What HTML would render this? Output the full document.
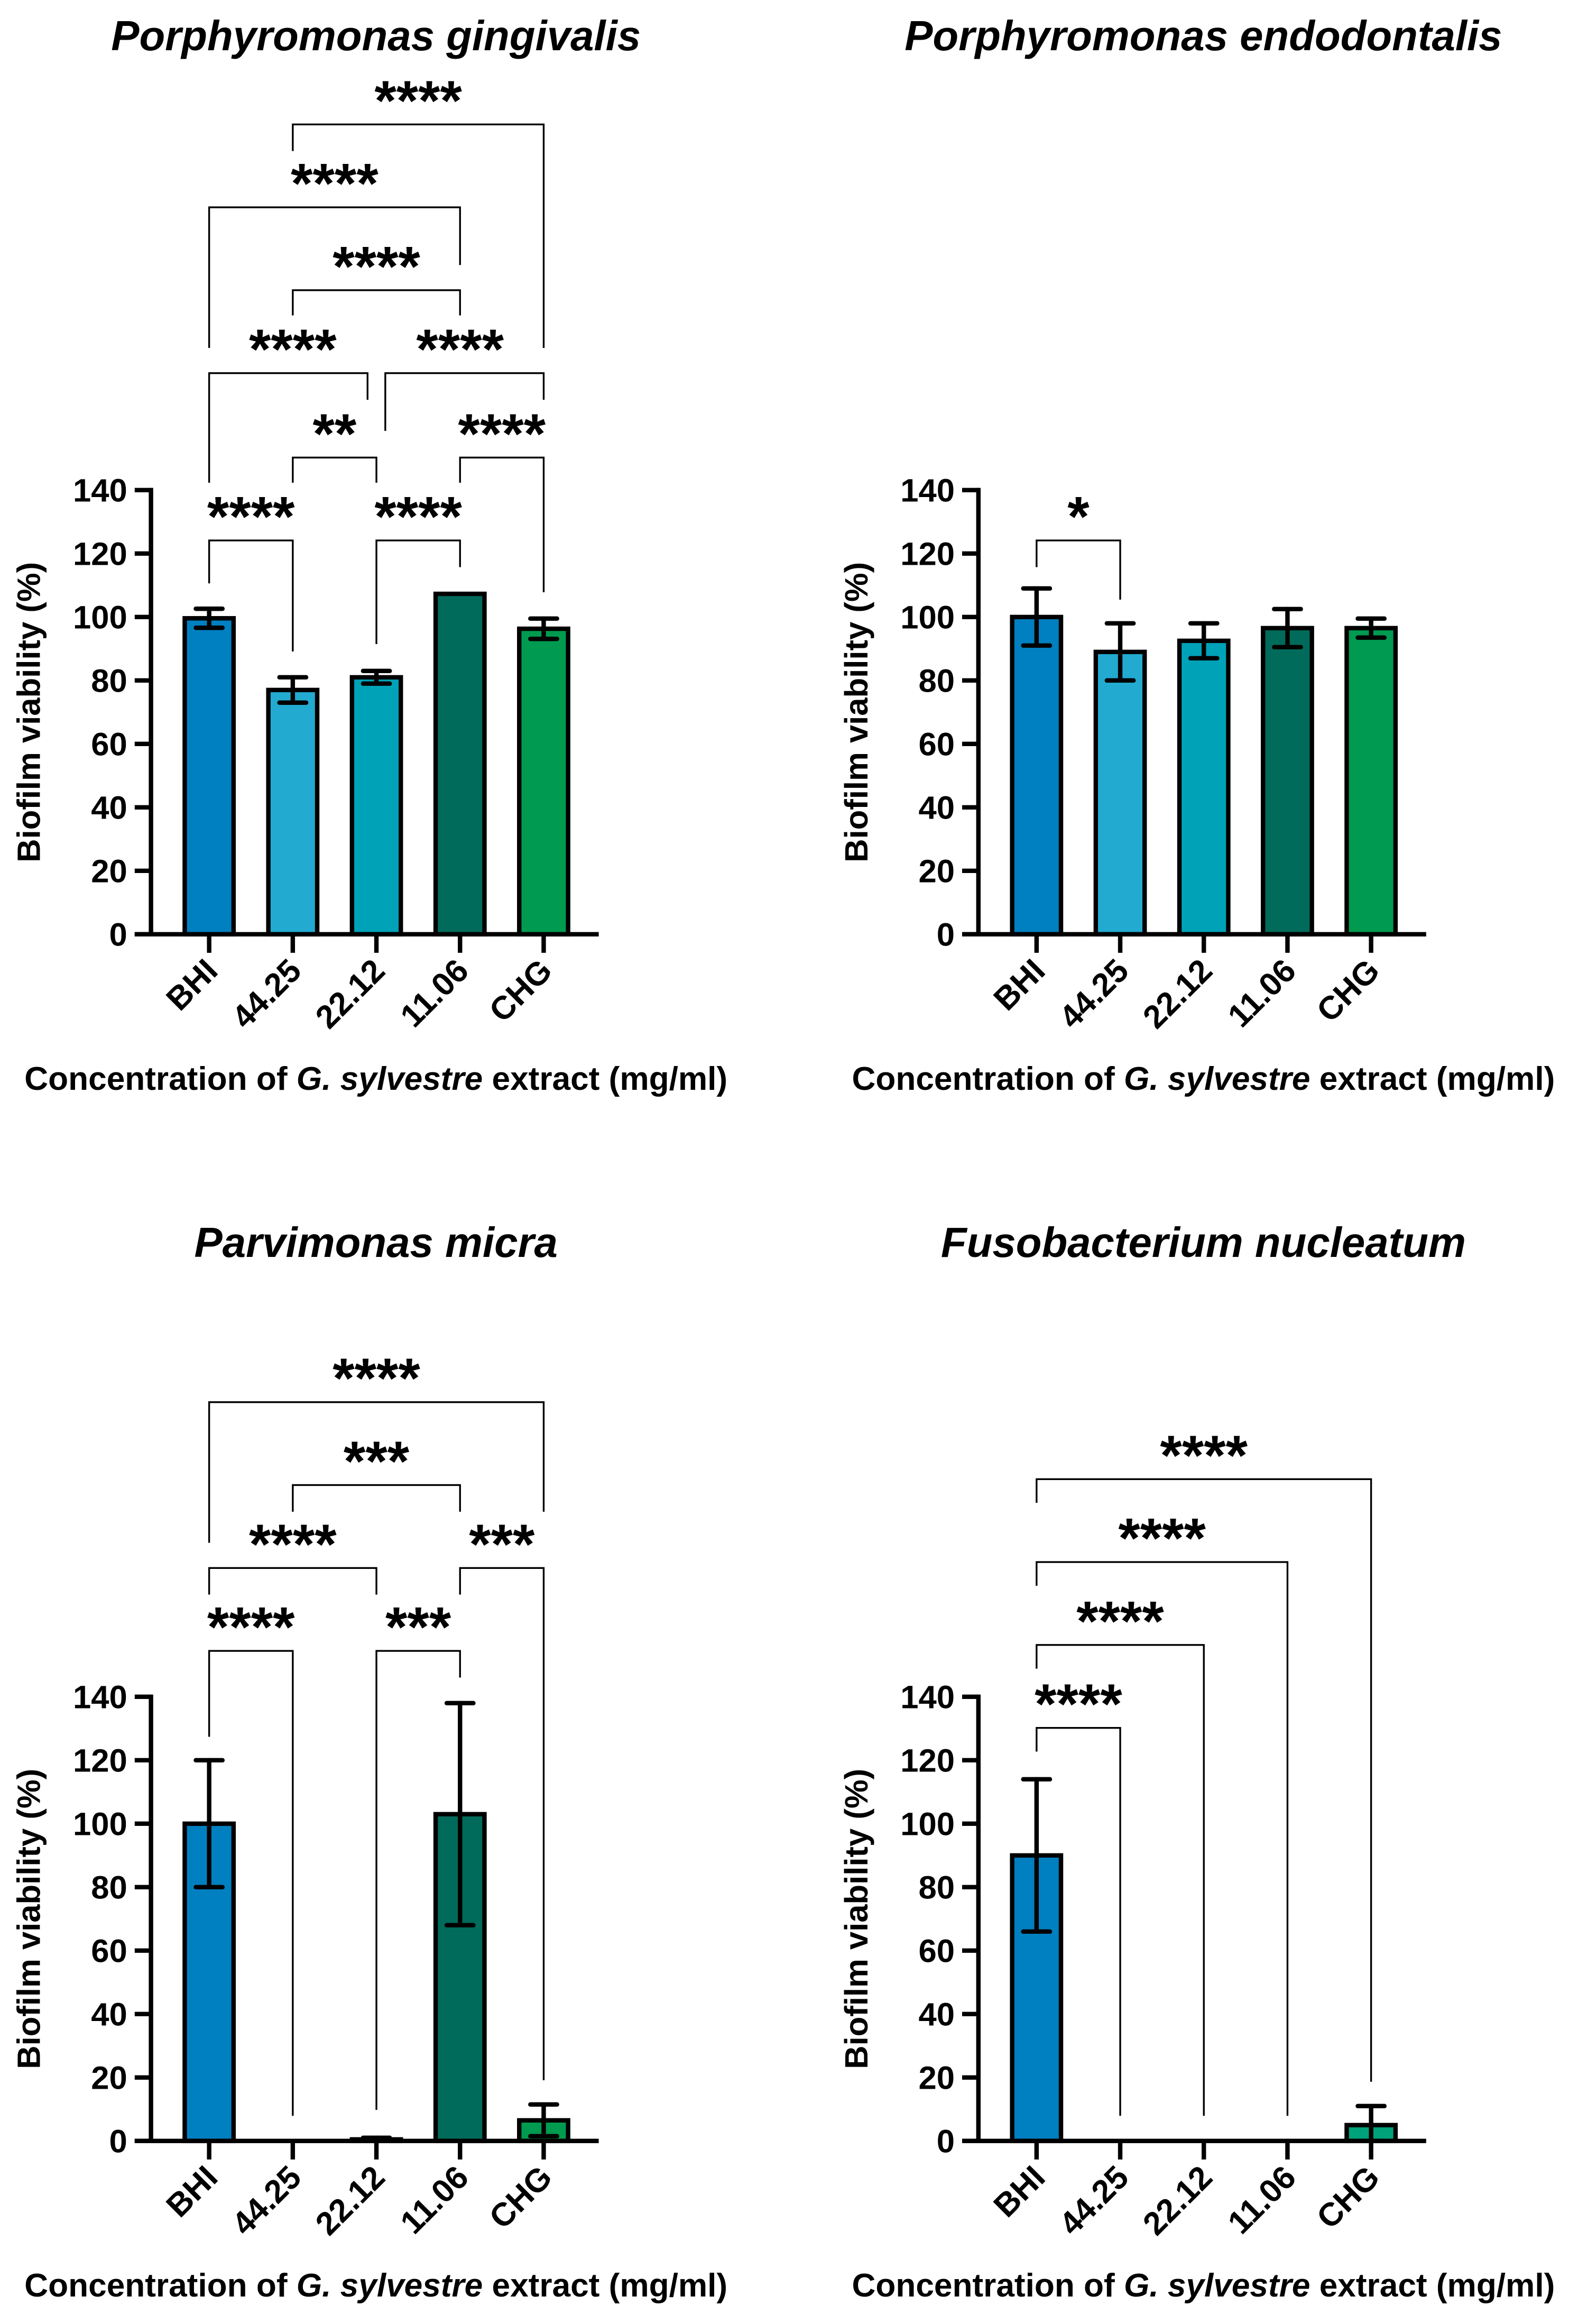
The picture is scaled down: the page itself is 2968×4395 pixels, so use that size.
<!DOCTYPE html>
<html><head><meta charset="utf-8"><style>
html,body{margin:0;padding:0;background:#fff}
svg{display:block}
text{font-family:"Liberation Sans",Arial,sans-serif;font-weight:bold;fill:#000}
</style></head><body>
<svg id="fig" xmlns="http://www.w3.org/2000/svg" width="2968" height="4395" viewBox="0 0 1060 1569.6"></svg>
<script>
const categories = ["BHI","44.25","22.12","11.06","CHG"];
const colors = ["#0080c0","#22aad0","#00a2b8","#006b5a","#009b50"];
const yTicks = [0,20,40,60,80,100,120,140];
const titles = ["Porphyromonas gingivalis","Porphyromonas endodontalis","Parvimonas micra","Fusobacterium nucleatum"];
const meansPG = [99.6, 77, 81, 107.3, 96.3];
const errPG = [3, 4, 2, 0, 3.2];
const meansPE = [100, 89, 92.5, 96.5, 96.5];
const errPE = [9, 9, 5.5, 6, 3];
const meansPM = [100, 0, 0.5, 103, 6.5];
const errPM = [20, 0, 0.5, 35, 5];
const meansFN = [90, 0, 0, 0, 5];
const errFN = [24, 0, 0, 0, 6];
// brackets: [i, j, bracketY, leftLegEnd, rightLegEnd, label, leftShift, rightShift] in panel px
const bracketsPG = [[1,4,84,102,235,"****"],[0,3,140,235,179,"****"],[1,3,196,213,213,"****"],[0,2,252,326,270,"****",0,-6],[2,4,252,291,270,"****",6,0],[1,2,309,326,326,"**"],[3,4,309,326,400,"****"],[0,1,365,394,440,"****"],[2,3,365,435,383,"****"]];
const bracketsPE = [[0,1,365,383,405,"*"]];
const bracketsPM = [[0,4,947,1042,1021,"****"],[1,3,1003,1021,1021,"***"],[0,2,1059,1077,1077,"****"],[3,4,1059,1077,1405,"***"],[0,1,1115,1173,1429,"****"],[2,3,1115,1425,1133,"***"]];
const bracketsFN = [[0,4,999,1015,1406,"****"],[0,3,1055,1071,1429,"****"],[0,2,1111,1127,1429,"****"],[0,1,1167,1183,1429,"****"]];

const NS="http://www.w3.org/2000/svg";
const svg=document.getElementById('fig');
function mk(tag,attrs,parent){const e=document.createElementNS(NS,tag);for(const k in attrs)e.setAttribute(k,attrs[k]);(parent||svg).appendChild(e);return e;}

function panel(pi,dx,y0,means,errs,brackets,fillOverride){
  const g=mk('g',{});
  
  
  const axX=102+dx, cx0=141.3+dx, step=56.5, bw=33;
  const yS=v=>y0-v*(300/140);
  const xS=i=>cx0+i*step;
  const cxMid=254+dx;
  const t=mk('text',{x:cxMid,y:y0-597,'text-anchor':'middle','font-size':28.5,'font-style':'italic'},g);
  t.textContent=titles[pi];
  
  
  means.forEach((m,i)=>{
    const col=(fillOverride&&fillOverride[i])||colors[i];
    if(m>0){
      const top=yS(m);
      const r=mk('rect',{x:xS(i)-bw/2,y:top,width:bw,height:y0-top,fill:col,stroke:'#000','stroke-width':3},g);
      
      
    }
    const e=errs[i];
    if(e>0){
      const eg=mk('g',{stroke:'#000','stroke-width':3,'stroke-linecap':'round'},g);
      
      
      const hi=yS(m+e), lo=yS(Math.max(0,m-e));
      mk('line',{x1:xS(i),x2:xS(i),y1:hi,y2:lo},eg);
      mk('line',{x1:xS(i)-9,x2:xS(i)+9,y1:hi,y2:hi},eg);
      mk('line',{x1:xS(i)-9,x2:xS(i)+9,y1:lo,y2:lo},eg);
    }
  });
  const ax=mk('g',{stroke:'#000','stroke-width':3},g);
  
  
  mk('line',{x1:axX,x2:axX,y1:yS(140)-1.5,y2:y0+1.5},ax);
  mk('line',{x1:axX-11,x2:404.5+dx,y1:y0,y2:y0},ax);
  yTicks.forEach(v=>{
    mk('line',{x1:axX-11,x2:axX,y1:yS(v),y2:yS(v)},ax);
    const tl=mk('text',{x:86+dx,y:yS(v)+7.8,'text-anchor':'end','font-size':22},g);
    tl.textContent=v;
    
    
  });
  categories.forEach((c,i)=>{
    mk('line',{x1:xS(i),x2:xS(i),y1:y0,y2:y0+12.5},ax);
    const xl=mk('text',{x:0,y:0,'text-anchor':'end','font-size':22,transform:`translate(${xS(i)+7},${y0+26}) rotate(-45)`},g);
    xl.textContent=c;
    
    
  });
  const yt=mk('text',{x:0,y:0,'text-anchor':'middle','font-size':22,transform:`translate(${27+dx},${y0-150}) rotate(-90)`},g);
  yt.textContent='Biofilm viability (%)';
  
  
  const xt=mk('text',{x:cxMid,y:y0+105,'text-anchor':'middle','font-size':22.2},g);
  
  
  xt.innerHTML='Concentration of <tspan font-style="italic">G. sylvestre</tspan> extract (mg/ml)';
  brackets.forEach(b=>{
    const [i,j,by,le,re,lab,ls,rs]=b;
    const xa=xS(i)+(ls||0), xb=xS(j)+(rs||0);
    const bg=mk('g',{},g);
    
    
    mk('polyline',{points:`${xa},${le} ${xa},${by} ${xb},${by} ${xb},${re}`,fill:'none',stroke:'#000','stroke-width':1.2},bg);
    const st=mk('text',{x:(xS(i)+xS(j))/2,y:by-3,'text-anchor':'middle','font-size':38},bg);
    st.textContent=lab;
  });
}
panel(0,0,631,meansPG,errPG,bracketsPG);
panel(1,559,631,meansPE,errPE,bracketsPE);
panel(2,0,1446,meansPM,errPM,bracketsPM);
panel(3,559,1446,meansFN,errFN,bracketsFN,[null,null,null,null,"#00a27a"]);
</script>
</body></html>
